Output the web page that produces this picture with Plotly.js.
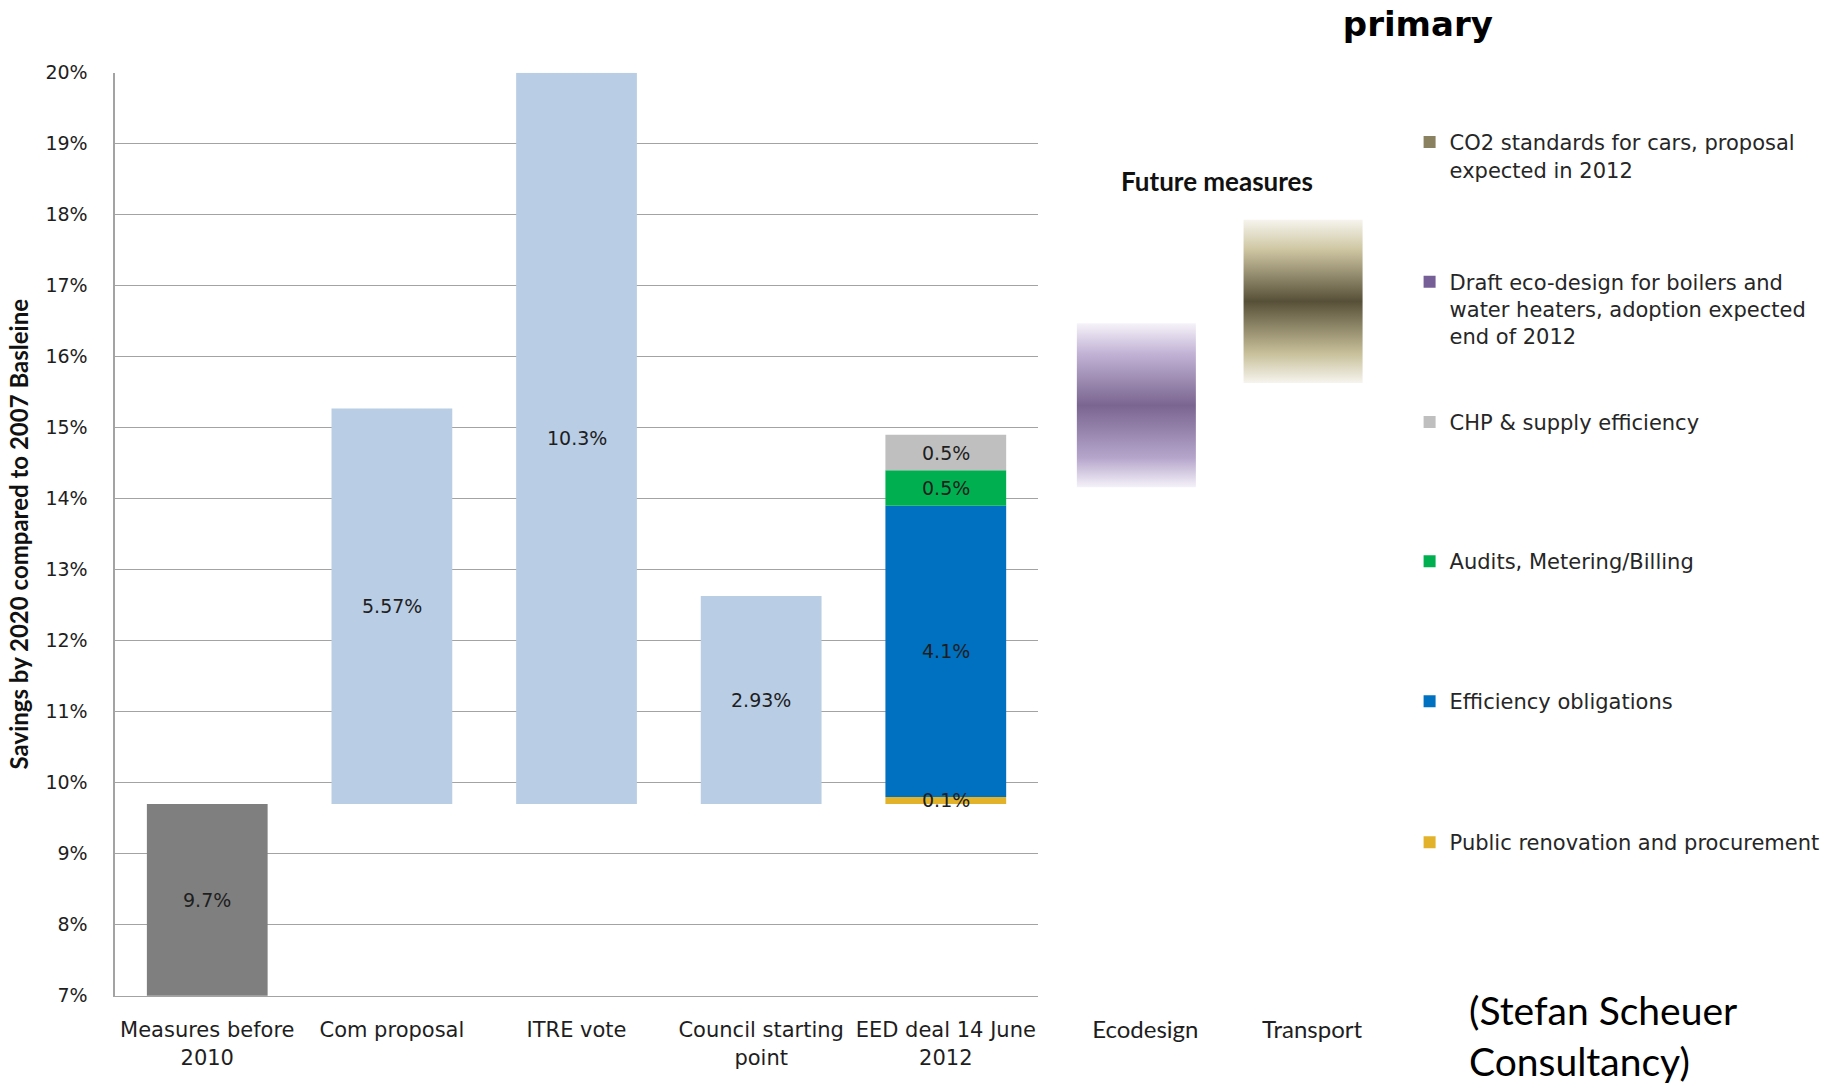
<!DOCTYPE html>
<html>
<head>
<meta charset="utf-8">
<script src="https://cdn.plot.ly/plotly-3.0.1.min.js"></script>
<style>html,body{margin:0;padding:0;background:#fff;}#chart{width:1839px;height:1087px;}</style>
</head>
<body>
<div id="chart"></div>
<script>
// ---------- data ----------
const categories = ['Measures before<br>2010', 'Com proposal', 'ITRE vote', 'Council starting<br>point', 'EED deal 14 June<br>2012'];
const measuresBefore2010 = 9.7;               // savings from measures before 2010 (%)
const additionalSavings = [5.57, 10.3, 2.93]; // Com proposal, ITRE vote, Council starting point (%)
const eedSegmentNames = ['Public renovation and procurement', 'Efficiency obligations', 'Audits, Metering/Billing', 'CHP &amp; supply efficiency'];
const eedSegmentValues = [0.1, 4.1, 0.5, 0.5];  // EED deal 14 June 2012 components (%)
const futureCategories = ['Ecodesign', 'Transport'];
const futureNames = ['Draft eco-design for boilers and<br>water heaters, adoption expected<br>end of 2012', 'CO2 standards for cars, proposal<br>expected in 2012'];
const futureLow = [14.16, 15.63];   // lower edge of the future-measure ranges (%)
const futureHigh = [16.47, 17.93];  // upper edge of the future-measure ranges (%)
const yTickValues = [7, 8, 9, 10, 11, 12, 13, 14, 15, 16, 17, 18, 19, 20];

// ---------- styles ----------
const Y_MIN = 7, Y_MAX = 20;
const DEJAVU = 'DejaVu Sans, Verdana, sans-serif';
const CAL = 'Lato, Noto Sans, sans-serif';
const gridColor = '#a3a3a3';
const textColor = '#1e1e1e';
const mainColors = ['#7f7f7f', '#b9cde5', '#b9cde5', '#b9cde5'];
const eedColors = ['#e2b32a', '#0070c0', '#00b050', '#bfbfbf'];
const futureLegendColors = ['#765f96', '#8a8160'];
const futureScales = [
  [[0, 'rgba(245,242,249,1)'], [0.18, '#b5a5cb'], [0.5, '#7a6590'], [0.82, '#c3b4d6'], [1, 'rgba(246,243,249,1)']],
  [[0, 'rgba(246,244,238,1)'], [0.18, '#c8c09a'], [0.5, '#575038'], [0.82, '#cfc7a3'], [1, 'rgba(246,244,238,1)']]
];
const futureLegendPos = [0.7594, 0.8878];
const eedLegendPos = [0.2438, 0.3735, 0.5023, 0.6302];
const legendNames = ['legend', 'legend2', 'legend3', 'legend4', 'legend5', 'legend6'];

const traces = [];
const annotations = [];

// base bars (first four categories)
const baseX = categories.slice(0, 4);
const baseY = [measuresBefore2010].concat(additionalSavings);
const baseBase = [0].concat(additionalSavings.map(() => measuresBefore2010));
traces.push({
  type: 'bar', x: baseX, y: baseY, base: baseBase,
  marker: {color: mainColors, line: {width: 0}},
  showlegend: false, hoverinfo: 'skip'
});
baseY.forEach((v, i) => {
  const lo = Math.max(baseBase[i], Y_MIN), hi = Math.min(baseBase[i] + v, Y_MAX);
  annotations.push({x: baseX[i], y: (lo + hi) / 2, xref: 'x', yref: 'y', text: v + '%', showarrow: false,
    font: {family: DEJAVU, size: 19, color: textColor}});
});

// EED stacked segments
let cum = measuresBefore2010;
eedSegmentValues.forEach((v, i) => {
  traces.push({
    type: 'bar', x: [categories[4]], y: [v], base: [cum], name: eedSegmentNames[i],
    marker: {color: eedColors[i], line: {width: 0}},
    legend: legendNames[i], hoverinfo: 'skip'
  });
  annotations.push({x: categories[4], y: cum + v / 2, xref: 'x', yref: 'y', text: v + '%', showarrow: false,
    font: {family: DEJAVU, size: 19, color: textColor}});
  cum += v;
});

// future measures (gradient ranges)
const halfW = 0.357;
futureCategories.forEach((c, i) => {
  traces.push({
    type: 'scatter', mode: 'none', xaxis: 'x2', yaxis: 'y2',
    x: [i - halfW, i + halfW, i + halfW, i - halfW, i - halfW],
    y: [futureLow[i], futureLow[i], futureHigh[i], futureHigh[i], futureLow[i]],
    fill: 'toself', fillcolor: futureScales[i][2][1],
    fillgradient: {type: 'vertical', colorscale: futureScales[i], start: futureLow[i], stop: futureHigh[i]},
    showlegend: false, hoverinfo: 'skip'
  });
  // legend key (square swatch) for the range
  traces.push({
    type: 'bar', xaxis: 'x2', yaxis: 'y2', x: [i], y: [null],
    marker: {color: futureLegendColors[i], line: {width: 0}},
    name: futureNames[i], legend: legendNames[4 + i], hoverinfo: 'skip'
  });
});

const legendBase = {x: 0.7665, xanchor: 'left', yanchor: 'top', bgcolor: 'rgba(0,0,0,0)', valign: 'top',
  font: {family: DEJAVU, size: 21, color: '#262626'}};
const layout = {
  width: 1839, height: 1087,
  margin: {l: 0, r: 0, t: 0, b: 0, pad: 0},
  paper_bgcolor: '#ffffff', plot_bgcolor: 'rgba(0,0,0,0)',
  barmode: 'overlay', bargap: 0.346,
  title: {text: '<b>primary</b>', x: 0.771, xanchor: 'center', y: 0.978, yanchor: 'middle',
    font: {family: DEJAVU, size: 34, color: '#000'}},
  xaxis: {domain: [0.0625, 0.5645], type: 'category', showgrid: false, showline: true, linecolor: gridColor, linewidth: 1.5,
    ticks: '', ticklabelstandoff: 15, tickfont: {family: DEJAVU, size: 21, color: textColor}, fixedrange: true},
  yaxis: {domain: [0.0840, 0.9331], range: [Y_MIN, Y_MAX], tickvals: yTickValues, ticktext: yTickValues.map(v => v + '%'),
    showgrid: true, gridcolor: gridColor, gridwidth: 1.5, showline: true, linecolor: gridColor, linewidth: 1.5, zeroline: false,
    ticks: '', ticklabelstandoff: 22, tickfont: {family: DEJAVU, size: 19, color: textColor},
    title: {text: '<b>Savings by 2020 compared to 2007 Basleine</b>', standoff: 10, font: {family: CAL, size: 24, color: '#111'}}},
  xaxis2: {domain: [0.5726, 0.7539], anchor: 'y2', range: [-0.5, 1.5], tickvals: [0, 1], ticktext: futureCategories,
    showgrid: false, showline: false, zeroline: false, ticks: '', ticklabelstandoff: 17, ticklabelshift: 9,
    tickfont: {family: CAL, size: 24, color: textColor}},
  yaxis2: {domain: [0.0840, 0.9331], anchor: 'x2', range: [Y_MIN, Y_MAX], visible: false, showgrid: false},
  annotations: annotations.concat([
    {xref: 'paper', yref: 'paper', x: 0.6618, y: 0.8335, xanchor: 'center', yanchor: 'middle', showarrow: false,
      text: '<b>Future measures</b>', font: {family: CAL, size: 26, color: '#111'}},
    {xref: 'paper', yref: 'paper', x: 0.7977, y: 0.0475, xanchor: 'left', yanchor: 'middle', align: 'left', showarrow: false,
      text: '(Stefan Scheuer<br>Consultancy)', font: {family: CAL, size: 39, color: '#000'}}
  ]),
  showlegend: true
};
const allLegendY = eedLegendPos.concat(futureLegendPos);
legendNames.forEach((ln, i) => { layout[ln] = Object.assign({}, legendBase, {y: allLegendY[i]}); });

Plotly.newPlot('chart', traces, layout, {staticPlot: true, displayModeBar: false});
</script>
</body>
</html>
